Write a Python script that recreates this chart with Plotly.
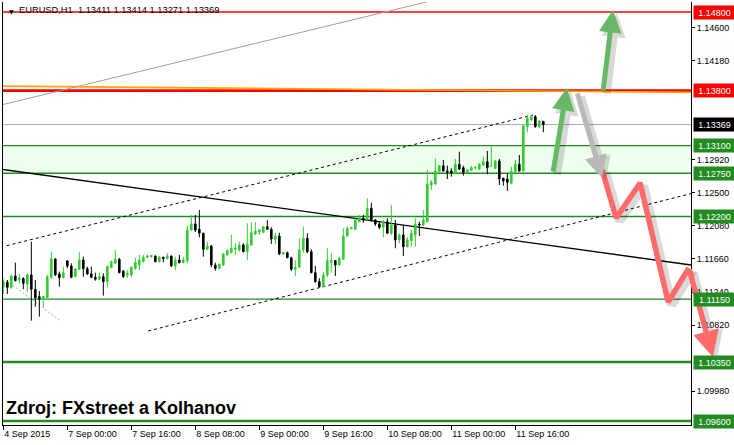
import plotly.graph_objects as go

# ---------------- data (EURUSD H1) ----------------
opens = [1.11300, 1.11365, 1.11300, 1.11444, 1.11393, 1.11410, 1.11342, 1.11457, 1.11275, 1.11181,
         1.11164, 1.11170, 1.11428, 1.11660, 1.11470, 1.11422, 1.11635, 1.11571, 1.11435, 1.11529,
         1.11647, 1.11537, 1.11470, 1.11428, 1.11402, 1.11435, 1.11372, 1.11550, 1.11605, 1.11656,
         1.11508, 1.11453, 1.11457, 1.11542, 1.11584, 1.11626, 1.11682, 1.11689, 1.11698, 1.11626,
         1.11682, 1.11664, 1.11698, 1.11571, 1.11647, 1.11613, 1.11635, 1.12029, 1.12105, 1.12038,
         1.11987, 1.11783, 1.11825, 1.11584, 1.11542, 1.11584, 1.11711, 1.11740, 1.11783, 1.11775,
         1.11838, 1.11753, 1.11838, 1.11978, 1.12003, 1.11999, 1.12071, 1.12038, 1.11910, 1.11952,
         1.11724, 1.11740, 1.11677, 1.11529, 1.11555, 1.11775, 1.11923, 1.11753, 1.11486, 1.11372,
         1.11308, 1.11457, 1.11613, 1.11639, 1.11584, 1.11656, 1.11952, 1.12045, 1.12038, 1.12134,
         1.12177, 1.12165, 1.12305, 1.12156, 1.12105, 1.12063, 1.12134, 1.11987, 1.12092, 1.11902,
         1.11965, 1.11816, 1.11893, 1.11965, 1.12105, 1.12092, 1.12134, 1.12601, 1.12613, 1.12770,
         1.12846, 1.12779, 1.12779, 1.12749, 1.12864, 1.12821, 1.12757, 1.12788, 1.12821, 1.12804,
         1.12855, 1.12897, 1.12842, 1.12813, 1.12906, 1.12686, 1.12677, 1.12622, 1.12770, 1.12864,
         1.12779, 1.13342, 1.13427, 1.13469, 1.13342, 1.13411]
highs = [1.11393, 1.11393, 1.11457, 1.11613, 1.11470, 1.11428, 1.11478, 1.11880, 1.11393, 1.11253,
         1.11190, 1.11457, 1.11753, 1.11669, 1.11499, 1.11562, 1.11647, 1.11605, 1.11542, 1.11745,
         1.11689, 1.11562, 1.11562, 1.11486, 1.11486, 1.11478, 1.11584, 1.11639, 1.11775, 1.11673,
         1.11520, 1.11520, 1.11562, 1.11673, 1.11715, 1.11711, 1.11715, 1.11711, 1.11702, 1.11698,
         1.11686, 1.11733, 1.11702, 1.11689, 1.11711, 1.11689, 1.12080, 1.12219, 1.12219, 1.12283,
         1.11994, 1.11880, 1.11838, 1.11613, 1.11605, 1.11740, 1.11783, 1.11965, 1.11860, 1.11880,
         1.11860, 1.12114, 1.12127, 1.12127, 1.12038, 1.12080, 1.12156, 1.12063, 1.11994, 1.11994,
         1.11753, 1.11753, 1.11689, 1.11647, 1.11923, 1.12071, 1.11987, 1.11783, 1.11571, 1.11415,
         1.11499, 1.11796, 1.11733, 1.11647, 1.11689, 1.12050, 1.12071, 1.12071, 1.12198, 1.12219,
         1.12219, 1.12432, 1.12376, 1.12165, 1.12134, 1.12156, 1.12177, 1.12346, 1.12156, 1.11987,
         1.12092, 1.11944, 1.12029, 1.12177, 1.12134, 1.12283, 1.12791, 1.12664, 1.12940, 1.12855,
         1.12918, 1.12846, 1.12813, 1.12931, 1.13024, 1.12846, 1.12804, 1.12842, 1.12842, 1.12880,
         1.12960, 1.13033, 1.13087, 1.12918, 1.12931, 1.12693, 1.12749, 1.12833, 1.12918, 1.12982,
         1.13363, 1.13490, 1.13490, 1.13490, 1.13427, 1.13414]
lows = [1.11215, 1.11215, 1.11279, 1.11372, 1.11351, 1.11275, 1.11245, 1.10876, 1.11054, 1.10927,
        1.11046, 1.11160, 1.11406, 1.11444, 1.11308, 1.11415, 1.11542, 1.11415, 1.11428, 1.11520,
        1.11435, 1.11457, 1.11415, 1.11384, 1.11393, 1.11194, 1.11300, 1.11542, 1.11597, 1.11478,
        1.11419, 1.11419, 1.11428, 1.11520, 1.11520, 1.11613, 1.11669, 1.11677, 1.11618, 1.11618,
        1.11618, 1.11656, 1.11562, 1.11520, 1.11605, 1.11605, 1.11605, 1.12020, 1.12003, 1.11936,
        1.11689, 1.11775, 1.11555, 1.11511, 1.11529, 1.11571, 1.11698, 1.11733, 1.11711, 1.11753,
        1.11745, 1.11647, 1.11825, 1.11965, 1.11965, 1.11987, 1.12029, 1.11851, 1.11851, 1.11711,
        1.11711, 1.11669, 1.11508, 1.11444, 1.11542, 1.11740, 1.11733, 1.11478, 1.11359, 1.11300,
        1.11300, 1.11428, 1.11486, 1.11444, 1.11571, 1.11647, 1.11944, 1.12038, 1.12029, 1.12127,
        1.12121, 1.12156, 1.12134, 1.12080, 1.12038, 1.11936, 1.11978, 1.11965, 1.11796, 1.11860,
        1.11698, 1.11809, 1.11816, 1.11816, 1.11952, 1.12080, 1.12121, 1.12537, 1.12601, 1.12762,
        1.12770, 1.12677, 1.12706, 1.12737, 1.12791, 1.12719, 1.12741, 1.12779, 1.12798, 1.12791,
        1.12846, 1.12737, 1.12834, 1.12804, 1.12601, 1.12592, 1.12524, 1.12610, 1.12762, 1.12770,
        1.12770, 1.13270, 1.13414, 1.13329, 1.13321, 1.13271]
closes = [1.11372, 1.11300, 1.11444, 1.11384, 1.11419, 1.11351, 1.11457, 1.11275, 1.11168, 1.11152,
          1.11181, 1.11435, 1.11660, 1.11457, 1.11422, 1.11486, 1.11571, 1.11428, 1.11533, 1.11647,
          1.11537, 1.11470, 1.11428, 1.11402, 1.11435, 1.11372, 1.11562, 1.11626, 1.11656, 1.11486,
          1.11435, 1.11478, 1.11555, 1.11613, 1.11647, 1.11682, 1.11698, 1.11702, 1.11626, 1.11682,
          1.11664, 1.11698, 1.11571, 1.11647, 1.11613, 1.11647, 1.12029, 1.12105, 1.12029, 1.11987,
          1.11783, 1.11825, 1.11584, 1.11542, 1.11593, 1.11724, 1.11766, 1.11796, 1.11796, 1.11838,
          1.11753, 1.11851, 1.11994, 1.12016, 1.12029, 1.12071, 1.12038, 1.11914, 1.11952, 1.11724,
          1.11740, 1.11677, 1.11529, 1.11555, 1.11775, 1.11923, 1.11753, 1.11486, 1.11372, 1.11308,
          1.11457, 1.11639, 1.11639, 1.11584, 1.11669, 1.11952, 1.12050, 1.12058, 1.12156, 1.12177,
          1.12156, 1.12305, 1.12156, 1.12105, 1.12063, 1.12134, 1.11987, 1.12092, 1.11902, 1.11965,
          1.11816, 1.11902, 1.11987, 1.12105, 1.12092, 1.12156, 1.12613, 1.12635, 1.12779, 1.12846,
          1.12779, 1.12762, 1.12753, 1.12864, 1.12804, 1.12757, 1.12791, 1.12821, 1.12821, 1.12864,
          1.12897, 1.12821, 1.12842, 1.12906, 1.12677, 1.12652, 1.12635, 1.12779, 1.12864, 1.12779,
          1.13354, 1.13448, 1.13469, 1.13342, 1.13414, 1.13369]
bar_index = list(range(len(opens)))

x_tick_index = [0, 16, 32, 48, 64, 80, 96, 112, 128]
x_tick_text = ["4 Sep 2015", "7 Sep 00:00", "7 Sep 16:00", "8 Sep 08:00", "9 Sep 00:00",
               "9 Sep 16:00", "10 Sep 08:00", "11 Sep 00:00", "11 Sep 16:00"]
# price-scale ticks that are not hidden behind the level labels
y_tick_vals = [1.0998, 1.1082, 1.1124, 1.1166, 1.1208, 1.1250, 1.1292, 1.1418, 1.1460]

level_prices = [1.14800, 1.13800, 1.13369, 1.13100, 1.12750, 1.12200, 1.11150, 1.10350, 1.09600]
level_kinds = ["res", "res_main", "last", "sup", "sup", "sup", "sup", "sup_main", "sup_main"]
zone_low, zone_high = 1.12750, 1.13100

title_text = "EURUSD,H1  1.13411 1.13414 1.13271 1.13369"
source_text = "Zdroj: FXstreet a Kolhanov"

# trend lines (bar index, price)
gray_trend = [(-1.0, 1.13612), (106.0, 1.14930)]
black_trend = [(-1.0, 1.12804), (172.0, 1.11583)]
channel_upper = [(0.84, 1.11829), (132.4, 1.13490)]
channel_lower = [(36.2, 1.10744), (172.0, 1.12492)]
gray_short = [(0.0, 1.11414), (14.2, 1.10875)]
orange_level = [(-1.0, 1.13858), (172.0, 1.13778)]

# scenario arrows (bar index, price): tail -> tip
green_arrows = [((137.4, 1.12753), (140.9, 1.13834)),
                ((149.9, 1.13783), (152.4, 1.14825))]
gray_arrow = ((143.4, 1.13783), (149.7, 1.12689))
red_path_x = [149.7, 153.2, 159.2, 166.2, 171.4]
red_path_y = [1.12791, 1.12181, 1.12626, 1.11113, 1.11545]
red_tip = (177.4, 1.10414)

# ---------------- styling ----------------
FONT = "Liberation Sans, Arial, sans-serif"
GREEN = "#228B22"
RED = "#FF0000"
Y0, Y1 = 1.095491, 1.149271
X0 = -0.0825
XMAIN = X0 + 688 / 4.0
XFULL = X0 + 731 / 4.0
DOM = 688 / 731.0
shadow_dx = 0.9
shadow_dy = -(3.0 / 423.0) * (Y1 - Y0)
SHADOW = "rgba(0,0,0,0.15)"

fig = go.Figure()

fig.add_trace(go.Candlestick(
    x=bar_index, open=opens, high=highs, low=lows, close=closes,
    increasing=dict(line=dict(color="#32CD32", width=1), fillcolor="#32CD32"),
    decreasing=dict(line=dict(color="#000000", width=1), fillcolor="#000000"),
    whiskerwidth=0, hoverinfo="skip", showlegend=False, xaxis="x", yaxis="y"))

# red scenario zig-zag (shadow + line) on the full-width overlay axis
fig.add_trace(go.Scatter(
    x=[v + shadow_dx for v in red_path_x],
    y=[v + shadow_dy for v in red_path_y],
    mode="lines", line=dict(color=SHADOW, width=9),
    hoverinfo="skip", showlegend=False, xaxis="x2", yaxis="y"))
fig.add_trace(go.Scatter(
    x=red_path_x, y=red_path_y, mode="lines",
    line=dict(color="#FF6A6A", width=5.5),
    hoverinfo="skip", showlegend=False, xaxis="x2", yaxis="y"))

shapes = []
shapes.append(dict(type="rect", xref="x domain", yref="y", x0=0, x1=1,
                   y0=zone_low, y1=zone_high, fillcolor="#EFFEEF", line=dict(width=0), layer="below"))


def seg(pts, color, width, dash="solid"):
    return dict(type="line", xref="x", yref="y", x0=pts[0][0], y0=pts[0][1],
                x1=pts[1][0], y1=pts[1][1], line=dict(color=color, width=width, dash=dash),
                layer="below")


shapes.append(seg(orange_level, "#FFA500", 1.6))
for p, k in zip(level_prices, level_kinds):
    if k == "res":
        col, w = RED, 1.3
    elif k == "res_main":
        col, w = RED, 2.6
    elif k == "last":
        col, w = "#A8A8A8", 1
    elif k == "sup_main":
        col, w = GREEN, 2.6
    else:
        col, w = GREEN, 1.3
    shapes.append(dict(type="line", xref="x domain", yref="y", x0=0, x1=1, y0=p, y1=p,
                       line=dict(color=col, width=w), layer="below"))

shapes.append(seg(gray_trend, "#A0A0A0", 1))
shapes.append(seg(black_trend, "#000000", 1.4))
shapes.append(seg(channel_upper, "#000000", 1, "3px,3px"))
shapes.append(seg(channel_lower, "#000000", 1, "3px,3px"))
shapes.append(seg(gray_short, "#AAAAAA", 1, "2px,2px"))

annotations = []


def arrow(tail, tip, color, width, size, xref="x2"):
    return dict(x=tip[0], y=tip[1], ax=tail[0], ay=tail[1], xref=xref, yref="y",
                axref=xref, ayref="y", text="", showarrow=True, arrowhead=2,
                arrowwidth=width, arrowsize=size, arrowcolor=color, standoff=0)


def shifted(pt):
    return (pt[0] + shadow_dx, pt[1] + shadow_dy)


for tail, tip in green_arrows:
    annotations.append(arrow(shifted(tail), shifted(tip), SHADOW, 8, 0.6))
annotations.append(arrow(shifted(gray_arrow[0]), shifted(gray_arrow[1]), SHADOW, 8, 0.6))
annotations.append(arrow(shifted((red_path_x[-1], red_path_y[-1])), shifted(red_tip), SHADOW, 9, 0.65))
for tail, tip in green_arrows:
    annotations.append(arrow(tail, tip, "#66B866", 5, 0.9))
annotations.append(arrow(gray_arrow[0], gray_arrow[1], "#B8B8B8", 5, 0.9))
annotations.append(arrow((red_path_x[-1], red_path_y[-1]), red_tip, "#FF6A6A", 5.5, 0.95))

# price labels on the axis
for p, k in zip(level_prices, level_kinds):
    bg = RED if k.startswith("res") else ("#000000" if k == "last" else GREEN)
    annotations.append(dict(xref="paper", yref="y", x=(693 - 3) / 731.0, y=p, xanchor="left",
                            yanchor="middle", text=f"{p:.5f}", showarrow=False, bgcolor=bg,
                            font=dict(family=FONT, size=9, color="#FFFFFF"),
                            width=37, height=9, borderpad=2, align="center"))

annotations.append(dict(xref="paper", yref="paper", x=(7 - 3) / 731.0, y=(425 - 11) / 423.0,
                        xanchor="left", yanchor="middle", text="\u25BC", showarrow=False,
                        font=dict(family="DejaVu Sans", size=6, color="#000000")))
annotations.append(dict(xref="paper", yref="paper", x=(17 - 3) / 731.0, y=(425 - 10) / 423.0,
                        xanchor="left", yanchor="middle", text=title_text, showarrow=False,
                        font=dict(family=FONT, size=9.3, color="#000000")))
annotations.append(dict(xref="paper", yref="paper", x=(4 - 3) / 731.0, y=(425 - 408) / 423.0,
                        xanchor="left", yanchor="middle", text="<b>" + source_text + "</b>",
                        showarrow=False, font=dict(family=FONT, size=18, color="#000000")))

fig.update_layout(
    width=734, height=445,
    margin=dict(l=3, r=0, t=2, b=20, pad=0),
    paper_bgcolor="#FFFFFF", plot_bgcolor="rgba(0,0,0,0)",
    showlegend=False, hovermode=False, boxgap=0.45,
    shapes=shapes, annotations=annotations,
    xaxis=dict(domain=[0, DOM], range=[X0, XMAIN], anchor="y",
               tickvals=x_tick_index, ticktext=x_tick_text, ticks="outside", ticklen=4,
               tickcolor="#000000", ticklabelposition="outside right",
               tickfont=dict(family=FONT, size=9, color="#000000"),
               showline=True, linecolor="#000000", linewidth=1,
               showgrid=False, zeroline=False, rangeslider=dict(visible=False)),
    xaxis2=dict(domain=[0, 1], range=[X0, XFULL], anchor="y", visible=False,
                showgrid=False, zeroline=False),
    yaxis=dict(domain=[0, 1], range=[Y0, Y1], side="right", anchor="x",
               tickvals=y_tick_vals, tickformat=".5f", ticks="outside", ticklen=3,
               tickcolor="#000000", tickfont=dict(family=FONT, size=9, color="#000000"),
               showline=True, mirror=True, linecolor="#000000", linewidth=1,
               showgrid=False, zeroline=False),
)

fig.write_html("out.html", config={"displayModeBar": False},
               post_script="document.body.style.margin='0';")
